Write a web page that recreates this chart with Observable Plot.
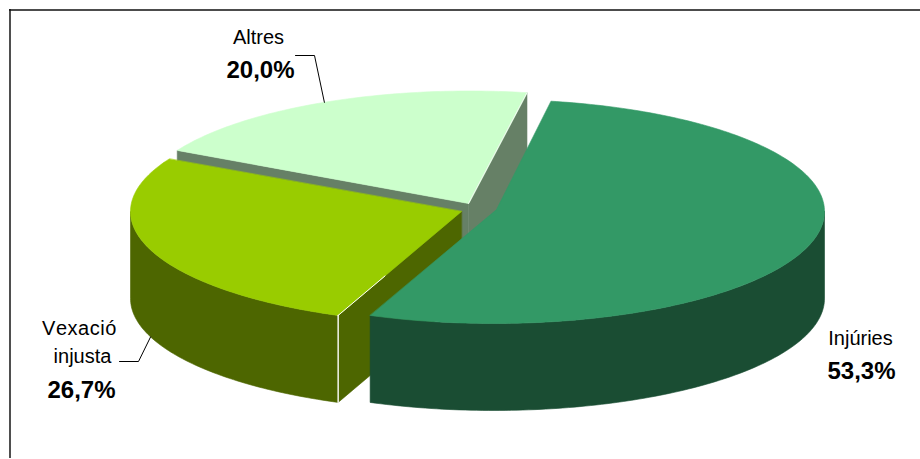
<!DOCTYPE html>
<html>
<head>
<meta charset="utf-8">
<script src="https://cdn.jsdelivr.net/npm/d3@7"></script>
<script src="https://cdn.jsdelivr.net/npm/@observablehq/plot@0.6"></script>
<style>
html,body{margin:0;padding:0;background:#fff}
svg{display:block}
.nokern text{font-kerning:none}
.wide text{font-kerning:none;letter-spacing:.55px}
</style>
</head>
<body>
<div id="chart"></div>
<script>
// Data
const names = ["Injúries", "Vexació injusta", "Altres"];
const shares = [53.3, 26.7, 20.0];
const shareLabels = ["53,3%", "26,7%", "20,0%"];

// Styling / layout of the 3D pie
const topColors = ["#339966", "#99cc00", "#ccffcc"];
const sideColors = ["#1a4d33", "#4d6600", "#668066"];
const centerX = [493, 461, 469];
const centerY = [211, 211, 202.5];
const apexX = [496, 461, 468];
const apexY = [209, 211, 203];
const rx = 331, ry = 112, depth = 87, startAngle = 10;

const total = d3.sum(shares);
let acc = startAngle;
const slices = names.map((name, i) => {
  const a0 = acc;
  const a1 = acc + shares[i] / total * 360;
  acc = a1;
  return {name, i, a0, a1, cx: centerX[i], cy: centerY[i], ax: apexX[i], ay: apexY[i], mid: (a0 + a1) / 2};
});

const rad = d => d * Math.PI / 180;
const pt = (s, a, dz = 0) => ({
  x: s.cx + rx * Math.sin(rad(a)),
  y: s.cy - ry * Math.cos(rad(a)) + dz
});
const arc = (s, a0, a1, dz = 0) => {
  const n = Math.max(2, Math.ceil(Math.abs(a1 - a0)));
  return d3.range(n + 1).map(k => pt(s, a0 + (a1 - a0) * k / n, dz));
};
const apex = (s, dz = 0) => ({x: s.ax, y: s.ay + dz});

const topFace = s => [apex(s), ...arc(s, s.a0, s.a1)];
const radialWall = (s, a) => [apex(s), pt(s, a), pt(s, a, depth), apex(s, depth)];
const outerWall = (s, a0, a1) => [...arc(s, a0, a1), ...arc(s, a1, a0, depth)];

const poly = (points, color) =>
  Plot.line(points, {x: "x", y: "y", fill: color, stroke: color, strokeWidth: 0.6, curve: "linear-closed"});
const edge = (points, color, w) =>
  Plot.line(points, {x: "x", y: "y", stroke: color, strokeWidth: w});

const [inj, vex, alt] = slices;
const along = (s, a, f) => ({x: s.ax + (pt(s, a).x - s.ax) * f, y: s.ay + (pt(s, a).y - s.ay) * f});

const marks = [
  // frame
  Plot.ruleX([9.5], {y1: 9, y2: 458, stroke: "#222", strokeWidth: 1.6}),
  Plot.ruleY([9.5], {x1: 9, x2: 920, stroke: "#111", strokeWidth: 1.6}),

  // Altres
  poly(radialWall(alt, alt.a0), sideColors[2]),
  poly(radialWall(alt, alt.a1), sideColors[2]),
  poly(topFace(alt), topColors[2]),
  edge([apex(alt), pt(alt, alt.a1)], "#ffffff", 0.8),

  // Vexació injusta
  poly(radialWall(vex, vex.a0), sideColors[1]),
  poly(outerWall(vex, vex.a0, 270), sideColors[1]),
  poly(topFace(vex), topColors[1]),
  edge([pt(vex, vex.a0), pt(vex, vex.a0, depth)], "#ffffff", 1.4),
  edge([pt(vex, vex.a0), along(vex, vex.a0, 0.62)], "#ffffff", 1),

  // Injúries
  poly(outerWall(inj, 90, inj.a1), sideColors[0]),
  poly(topFace(inj), topColors[0]),

  // leaders
  Plot.line([{x: 295, y: 55}, {x: 314, y: 55}, pt(alt, alt.mid)], {x: "x", y: "y", stroke: "#000", strokeWidth: 1}),
  Plot.line([{x: 119, y: 361}, {x: 138, y: 361}, pt(vex, vex.mid, depth)], {x: "x", y: "y", stroke: "#000", strokeWidth: 1}),

  // labels
  Plot.text([{t: "Altres", x: 258, y: 43}, {t: "Injúries", x: 860, y: 344}, {t: "injusta", x: 82, y: 362}],
    {x: "x", y: "y", text: "t", fontSize: 20, fill: "#000", textAnchor: "middle", lineAnchor: "bottom", className: "nokern"}),
  Plot.text([{t: "Vexació", x: 79, y: 334}],
    {x: "x", y: "y", text: "t", fontSize: 20, fill: "#000", textAnchor: "middle", lineAnchor: "bottom", className: "wide"}),
  Plot.text([{t: shareLabels[2], x: 260, y: 77}, {t: shareLabels[0], x: 861, y: 378}, {t: shareLabels[1], x: 81, y: 397}],
    {x: "x", y: "y", text: "t", fontSize: 24, fontWeight: "bold", fill: "#000", textAnchor: "middle", lineAnchor: "bottom"})
];

const plot = Plot.plot({
  width: 920,
  height: 459,
  margin: 0,
  style: {fontFamily: "'Liberation Sans', Arial, sans-serif", background: "#fff", overflow: "hidden"},
  x: {domain: [0, 920], range: [0, 920], axis: null},
  y: {domain: [0, 459], range: [0, 459], axis: null},
  marks
});
document.getElementById("chart").appendChild(plot);
</script>
</body>
</html>
